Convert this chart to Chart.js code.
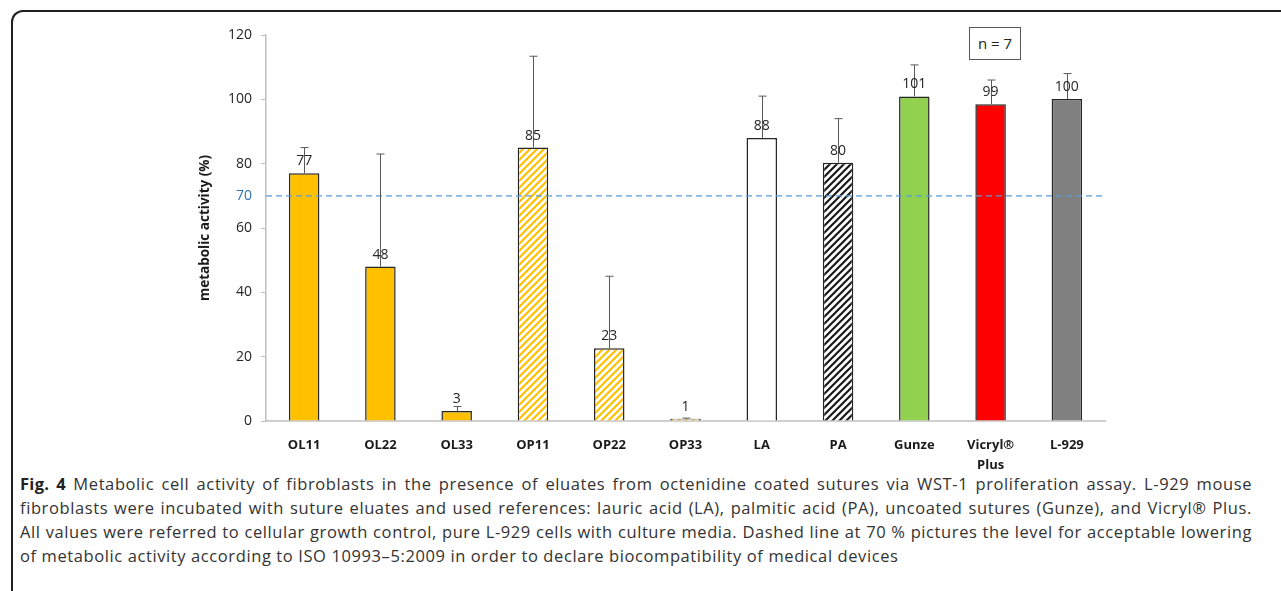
<!DOCTYPE html>
<html>
<head>
<meta charset="utf-8">
<script src="https://cdn.jsdelivr.net/npm/chart.js@4.4.1/dist/chart.umd.min.js"></script>
<style>
  body { margin: 0; background: #fff; width: 1281px; height: 591px; overflow: hidden; position: relative; font-family: "Open Sans", sans-serif; }
  #frame { position: absolute; left: 11px; top: 10px; width: 1290px; height: 600px; border-top: 2px solid #231f20; border-left: 2px solid #231f20; border-top-left-radius: 12px; }
  #chart-box { position: absolute; left: 0; top: 0; width: 1281px; height: 470px; }
  #nbox { position: absolute; left: 969px; top: 27px; width: 50px; height: 31px; border: 1px solid #595959; font-size: 15px; line-height: 31px; text-align: center; color: #222; background: #fff; }
  #caption { position: absolute; left: 20px; top: 472px; width: 1232px; font-size: 16.5px; letter-spacing: 0.6px; line-height: 24px; color: #333; }
  #caption div { text-align: justify; text-align-last: justify; white-space: nowrap; }
  #caption div.last { text-align-last: left; }
  #caption b { color: #222; letter-spacing: 0.3px; }
</style>
</head>
<body>
<div id="frame"></div>
<div id="chart-box"><canvas id="bar-chart"></canvas></div>
<div id="nbox">n = 7</div>
<div id="caption">
  <div><b>Fig. 4</b> Metabolic cell activity of fibroblasts in the presence of eluates from octenidine coated sutures via WST-1 proliferation assay. L-929 mouse</div>
  <div>fibroblasts were incubated with suture eluates and used references: lauric acid (LA), palmitic acid (PA), uncoated sutures (Gunze), and Vicryl® Plus.</div>
  <div>All values were referred to cellular growth control, pure L-929 cells with culture media. Dashed line at 70 % pictures the level for acceptable lowering</div>
  <div class="last">of metabolic activity according to ISO 10993–5:2009 in order to declare biocompatibility of medical devices</div>
</div>
<script>
const categories = ['OL11', 'OL22', 'OL33', 'OP11', 'OP22', 'OP33', 'LA', 'PA', 'Gunze', ['Vicryl®', 'Plus'], 'L-929'];
const activity = [77, 48, 3.1, 85, 22.6, 0.7, 88, 80.3, 100.9, 98.5, 100.1];
const errorTop = [85, 83, 4.5, 113.4, 45, 0.9, 101, 94, 110.7, 106, 108];
const yTicks = [0, 20, 40, 60, 70, 80, 100, 120];
const limitLine = 70;

// stripe fill for the OP and PA bars
function stripes(color) {
    const s = 7;
    const c = document.createElement('canvas');
    c.width = s;
    c.height = s;
    const g = c.getContext('2d');
    g.fillStyle = '#fff';
    g.fillRect(0, 0, s, s);
    g.strokeStyle = color;
    g.lineWidth = 2.2;
    g.beginPath();
    g.moveTo(-1, s + 1); g.lineTo(s + 1, -1);
    g.moveTo(-s / 2 - 1, s / 2 + 1); g.lineTo(s / 2 + 1, -s / 2 - 1);
    g.moveTo(s / 2 - 1, s * 1.5 + 1); g.lineTo(s * 1.5 + 1, s / 2 - 1);
    g.stroke();
    return g.createPattern(c, 'repeat');
}

const yellowStripes = stripes('#FFC000');
const blackStripes = stripes('#1a1a1a');
const barColors = ['#FFC000', '#FFC000', '#FFC000', yellowStripes, yellowStripes, yellowStripes,
    '#ffffff', blackStripes, '#92D050', '#FF0000', '#808080'];

// error bars, dashed 70% line and value labels
const extrasPlugin = {
    id: 'extras',
    afterDatasetsDraw(chart) {
        const ctx = chart.ctx;
        const y = chart.scales.y;
        const area = chart.chartArea;
        const meta = chart.getDatasetMeta(0);

        ctx.save();
        ctx.strokeStyle = '#5B9BD5';
        ctx.lineWidth = 1.3;
        ctx.setLineDash([6, 4]);
        ctx.beginPath();
        ctx.moveTo(area.left, y.getPixelForValue(limitLine));
        ctx.lineTo(area.right, y.getPixelForValue(limitLine));
        ctx.stroke();
        ctx.setLineDash([]);

        ctx.strokeStyle = '#595959';
        ctx.lineWidth = 1;
        meta.data.forEach((bar, i) => {
            const x = Math.round(bar.x) + 0.5;
            const top = y.getPixelForValue(errorTop[i]);
            ctx.beginPath();
            ctx.moveTo(x, bar.y);
            ctx.lineTo(x, top);
            ctx.moveTo(x - 4, top);
            ctx.lineTo(x + 4, top);
            ctx.stroke();
        });

        ctx.fillStyle = '#262626';
        ctx.font = '14px "Open Sans"';
        ctx.textAlign = 'center';
        ctx.textBaseline = 'bottom';
        meta.data.forEach((bar, i) => {
            ctx.fillText(Math.round(activity[i]), bar.x, bar.y - 5);
        });
        ctx.restore();
    }
};

new Chart(document.getElementById('bar-chart'), {
    type: 'bar',
    data: {
        labels: categories,
        datasets: [{
            data: activity,
            backgroundColor: barColors,
            borderColor: '#262626',
            borderWidth: 1.5,
            barPercentage: 0.4,
            categoryPercentage: 1
        }]
    },
    options: {
        responsive: true,
        maintainAspectRatio: false,
        animation: false,
        layout: { padding: { left: 197, right: 176, top: 35, bottom: 0 } },
        plugins: { legend: { display: false }, tooltip: { enabled: false } },
        scales: {
            x: {
                grid: { display: false },
                border: { color: '#d0d0d0', width: 2 },
                ticks: {
                    color: '#1a1a1a',
                    font: { family: 'Open Sans', size: 13, weight: 'bold', lineHeight: 1.5 },
                    padding: 7,
                    maxRotation: 0,
                    autoSkip: false
                },
                afterFit: scale => { scale.height = 49; }
            },
            y: {
                min: 0,
                max: 120,
                afterBuildTicks: scale => { scale.ticks = yTicks.map(v => ({ value: v })); },
                grid: {
                    drawOnChartArea: false,
                    tickLength: 5,
                    tickColor: c => c.tick && c.tick.value === limitLine ? 'rgba(0,0,0,0)' : '#bfbfbf'
                },
                border: { color: '#bfbfbf', width: 1.5 },
                ticks: {
                    color: c => c.tick && c.tick.value === limitLine ? '#2E75B6' : '#262626',
                    font: { family: 'Open Sans', size: 14 },
                    padding: 9
                },
                title: {
                    display: true,
                    text: 'metabolic activity (%)',
                    color: '#1a1a1a',
                    font: { family: 'Open Sans', size: 13.5, weight: 'bold' },
                    padding: { top: 0, bottom: 0 }
                },
                afterFit: scale => { scale.width = 69; }
            }
        }
    },
    plugins: [extrasPlugin]
});
</script>
</body>
</html>
